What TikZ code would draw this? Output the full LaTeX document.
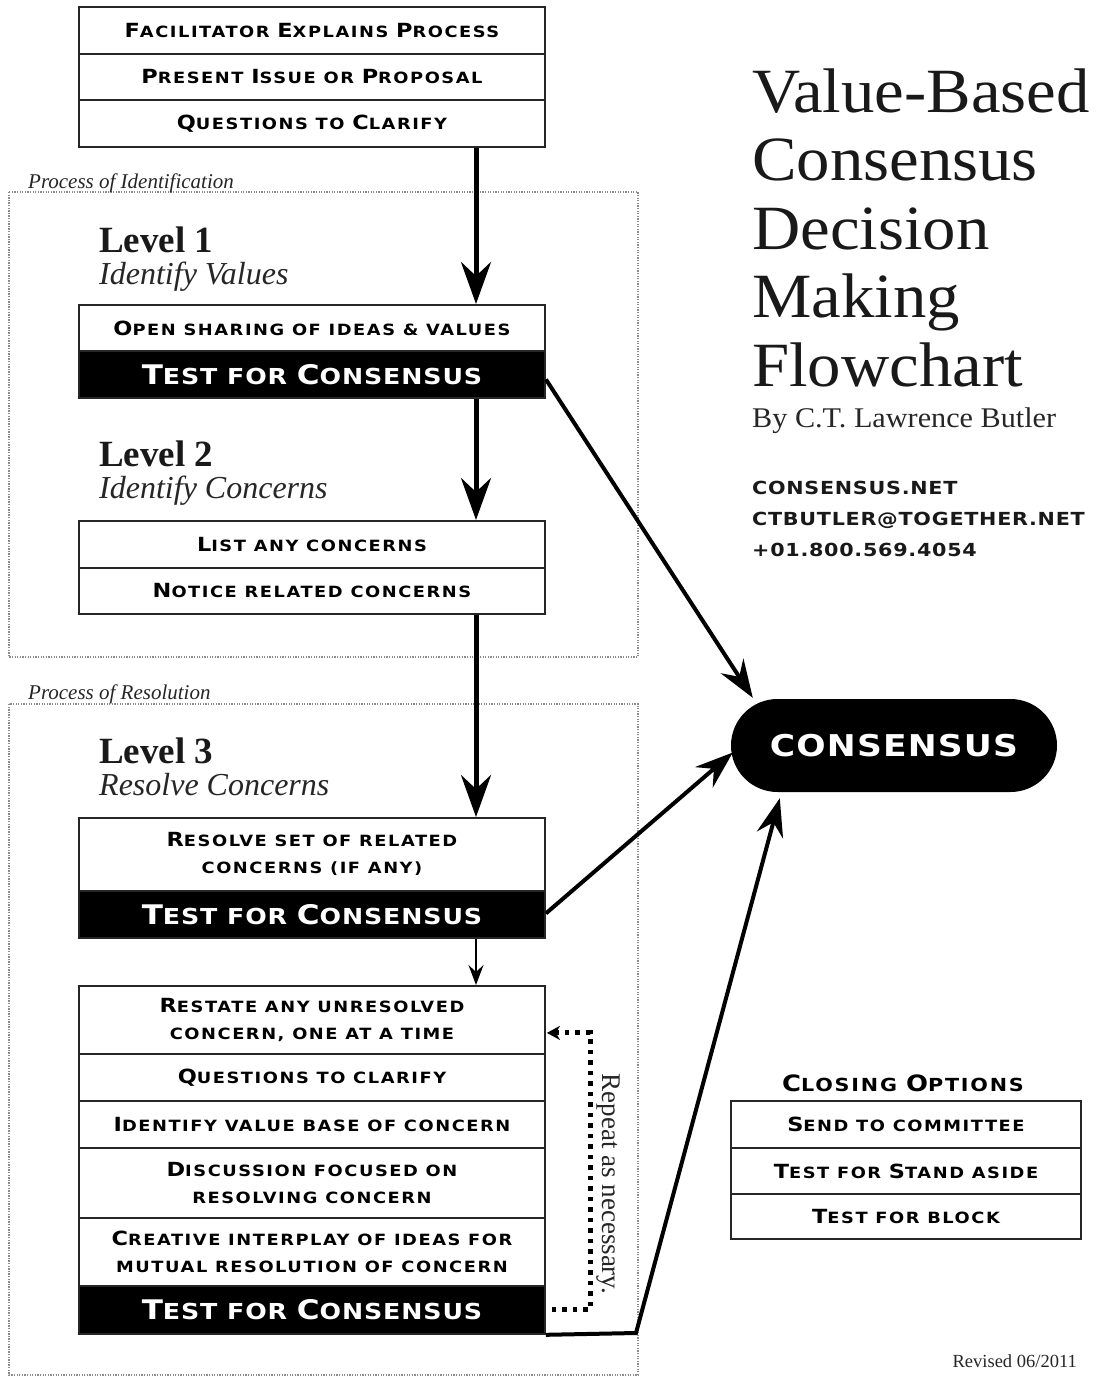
\documentclass[tikz,border=0pt]{standalone}
\usepackage{fontspec}
\setmainfont{Liberation Serif}
\newfontfamily\copA{DejaVu Sans}[FakeStretch=1.15,LetterSpace=10]
\newfontfamily\copB{DejaVu Sans}[FakeStretch=1.15,LetterSpace=4]
\newfontfamily\ttl{Liberation Serif}[FakeStretch=1.06]
\usetikzlibrary{arrows.meta,calc}
\newcommand\Ba[1]{{\fontsize{19.5}{27}\selectfont #1}}
\newcommand\Bb[1]{{\fontsize{27}{27}\selectfont #1}}
\newcommand\Bh[1]{{\fontsize{22.5}{27}\selectfont #1}}
\begin{document}
\begin{tikzpicture}[x=1pt,y=-1pt,
  row/.style={draw=black!85, line width=1.8pt, minimum width=466pt, minimum height=#1,
    inner sep=0pt, anchor=north, align=center, font=\copA\bfseries\fontsize{15.5}{27}\selectfont},
  row/.default=47pt,
  blk/.style={row=#1, fill=black, text=white, font=\copB\bfseries\fontsize{22}{27}\selectfont},
  blk/.default=47pt,
  crow/.style={row=#1, minimum width=350pt},
  crow/.default=46pt,
  frame/.style={draw=black!45, line width=1.3pt, dash pattern=on 1.3pt off 1.3pt},
  framelabel/.style={anchor=base west, inner sep=0pt, font=\itshape\fontsize{21}{20}\selectfont, text=black!85},
  lvl/.style={anchor=base west, inner sep=0pt, font=\bfseries\fontsize{37}{37}\selectfont, text=black!90},
  lvlsub/.style={anchor=base west, inner sep=0pt, font=\itshape\fontsize{32}{32}\selectfont, text=black!85},
  ttlline/.style={anchor=base west, inner sep=0pt, font=\ttl\fontsize{63}{63}\selectfont, text=black!90},
  contact/.style={anchor=base west, inner sep=0pt, font=\copB\bfseries\fontsize{18}{20}\selectfont, text=black!90},
  arr/.style={line width=5pt, -{Stealth[length=42pt,width=30pt,inset=14pt]}},
  darr/.style={line width=4pt, -{Stealth[length=38pt,width=27pt,inset=13pt]}},
  sarr/.style={line width=2.2pt, -{Stealth[length=20pt,width=15pt,inset=7pt]}},
  looparr/.style={line width=5pt, dash pattern=on 4.5pt off 6pt,
    -{Stealth[length=13pt,width=14pt,inset=4pt]}}
]
\fill[white] (0,0) rectangle (1097,1377);
\useasboundingbox (0,0) rectangle (1097,1377);

% frames
\draw[frame] (9,192) rectangle (638,657);
\draw[frame] (9,704) rectangle (638,1375);
\node[framelabel] (fl1) at (28,188) {Process of Identification};
\node[framelabel] (fl2) at (28,699) {Process of Resolution};

% top box
\node[row] (f1) at (312,6) {\Ba{F}ACILITATOR \Ba{E}XPLAINS \Ba{P}ROCESS};
\node[row=46pt] (f2) at (312,53) {\Ba{P}RESENT \Ba{I}SSUE OR \Ba{P}ROPOSAL};
\node[row] (f3) at (312,99) {\Ba{Q}UESTIONS TO \Ba{C}LARIFY};

% level 1
\node[lvl] (lv1) at (99,252) {Level 1};
\node[lvlsub] (lv1s) at (99,284) {Identify Values};
\node[row=46pt] (o1) at (312,304) {\Ba{O}PEN SHARING OF IDEAS \& VALUES};
\node[blk] (t1) at (312,350) {\Bb{T}EST FOR \Bb{C}ONSENSUS};

% level 2
\node[lvl] (lv2) at (99,466) {Level 2};
\node[lvlsub] (lv2s) at (99,498) {Identify Concerns};
\node[row] (l1) at (312,520) {\Ba{L}IST ANY CONCERNS};
\node[row=46pt] (l2) at (312,567) {\Ba{N}OTICE RELATED CONCERNS};

% level 3
\node[lvl] (lv3) at (99,763) {Level 3};
\node[lvlsub] (lv3s) at (99,795) {Resolve Concerns};
\node[row=73pt] (r1) at (312,817) {\Ba{R}ESOLVE SET OF RELATED\\CONCERNS (IF ANY)};
\node[blk] (t2) at (312,890) {\Bb{T}EST FOR \Bb{C}ONSENSUS};

\node[row=68pt] (s1) at (312,985) {\Ba{R}ESTATE ANY UNRESOLVED\\CONCERN, ONE AT A TIME};
\node[row] (s2) at (312,1053) {\Ba{Q}UESTIONS TO CLARIFY};
\node[row] (s3) at (312,1100) {\Ba{I}DENTIFY VALUE BASE OF CONCERN};
\node[row=70pt] (s4) at (312,1147) {\Ba{D}ISCUSSION FOCUSED ON\\RESOLVING CONCERN};
\node[row=68pt] (s5) at (312,1217) {\Ba{C}REATIVE INTERPLAY OF IDEAS FOR\\MUTUAL RESOLUTION OF CONCERN};
\node[blk=48pt] (t3) at (312,1285) {\Bb{T}EST FOR \Bb{C}ONSENSUS};

% title
\node[ttlline] (h1) at (752,112) {Value-Based};
\node[ttlline] (h2) at (752,180) {Consensus};
\node[ttlline] (h3) at (752,249) {Decision};
\node[ttlline] (h4) at (752,317) {Making};
\node[ttlline] (h5) at (752,386) {Flowchart};
\node[anchor=base west, inner sep=0pt, font=\ttl\fontsize{28.5}{28}\selectfont, text=black!85] (by) at (752,427) {By C.T. Lawrence Butler};
\node[contact] (k1) at (752,494) {CONSENSUS.NET};
\node[contact] (k2) at (752,525) {CTBUTLER@TOGETHER.NET};
\node[contact] (k3) at (752,556) {+01.800.569.4054};

% consensus pill
\node[fill=black, rounded corners=46.5pt, minimum width=326pt, minimum height=93pt, inner sep=0pt,
  text=white, font=\copB\bfseries\fontsize{30}{30}\selectfont] (pill) at (894,745.5) {CONSENSUS};

% closing options
\node[anchor=base, inner sep=0pt, font=\copA\bfseries\fontsize{18}{27}\selectfont] (ch) at (903,1091) {\Bh{C}LOSING \Bh{O}PTIONS};
\node[crow=47pt] (c1) at (906,1100) {\Ba{S}END TO COMMITTEE};
\node[crow] (c2) at (906,1147) {\Ba{T}EST FOR \Ba{S}TAND ASIDE};
\node[crow=45pt] (c3) at (906,1193) {\Ba{T}EST FOR BLOCK};

\node[anchor=base east, inner sep=0pt, font=\fontsize{18.5}{18}\selectfont, text=black!85] (rev) at (1077,1367) {Revised 06/2011};

% repeat label
\node[rotate=-90, inner sep=0pt, font=\fontsize{27}{27}\selectfont, text=black!85] (rep) at (608,1184) {Repeat as necessary.};

% connectors
\coordinate (ax) at (476,0);
\coordinate (lp) at (590,0);
\coordinate (kink) at (636,1333);
\coordinate (rt) at ($(s1.east)+(1,13)$);

\draw[arr] (f3.south -| ax) -- (o1.north -| ax);
\draw[arr] (t1.south -| ax) -- (l1.north -| ax);
\draw[arr] (l2.south -| ax) -- (r1.north -| ax);
\draw[sarr] (t2.south -| ax) -- (s1.north -| ax);

\draw[darr] ($(t1.east)+(0,5)$) -- ($(pill.north west)+(22,-1)$);
\draw[darr] ($(t2.east)+(0,-1)$) -- ($(pill.west)+(2,7)$);
\draw[darr, line join=miter] (t3.south east) -- (kink) -- ($(pill.south west)+(49,6)$);

\draw[looparr] ($(t3.east)+(6,0)$) -- (t3.east -| lp) -- (rt -| lp) -- (rt);
\end{tikzpicture}
\end{document}
